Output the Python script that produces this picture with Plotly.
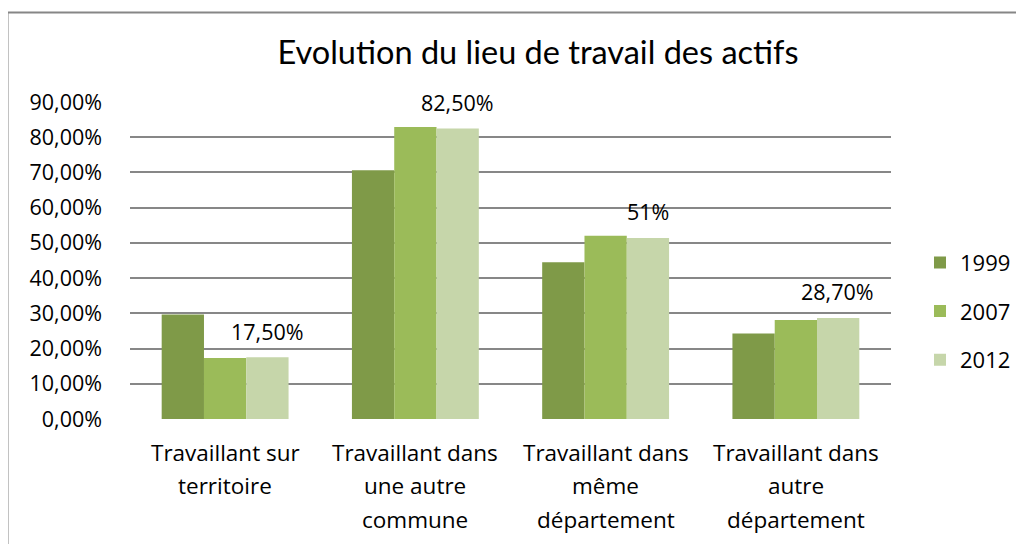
import plotly.graph_objects as go

categories = ["Travaillant sur territoire", "Travaillant dans une autre commune",
              "Travaillant dans même département", "Travaillant dans autre département"]
category_lines = [["Travaillant sur", "territoire"],
                  ["Travaillant dans", "une autre", "commune"],
                  ["Travaillant dans", "même", "département"],
                  ["Travaillant dans", "autre", "département"]]
years = ["1999", "2007", "2012"]
values_1999 = [29.7, 70.6, 44.5, 24.3]
values_2007 = [17.3, 82.9, 52.0, 28.1]
values_2012 = [17.5, 82.5, 51.4, 28.7]
labels_2012 = ["17,50%", "82,50%", "51%", "28,70%"]
y_ticks = [0, 10, 20, 30, 40, 50, 60, 70, 80, 90]
y_ticktext = [f"{v:.2f}%".replace(".", ",") for v in y_ticks]

colors = ["#7F9A48", "#9BBB59", "#C6D6AA"]
FONT = "Open Sans"

# page body has an 8px offset; plot area target: x 130..891, y 102..419 in the window
W, H = 1024, 544
L, T = 122, 94
PW, PH = 761, 317

fig = go.Figure()
for name, vals, col in zip(years, [values_1999, values_2007, values_2012], colors):
    fig.add_trace(go.Bar(x=categories, y=vals, name=name, marker=dict(color=col, line=dict(width=0)),
                         legendgroup=name))

# data labels for 2012 series
for cat, v, t in zip(categories, values_2012, labels_2012):
    fig.add_annotation(x=cat, y=v, text=t, showarrow=False, xref="x", yref="y",
                       xshift=42, yshift=26, yanchor="middle",
                       font=dict(family=FONT, size=21.5, color="#000000"))

# category labels with wide line spacing
for cat, lines in zip(categories, category_lines):
    for i, line in enumerate(lines):
        fig.add_annotation(x=cat, y=0, text=line, showarrow=False, xref="x", yref="y",
                           yshift=-(33 + i * 33.5), yanchor="middle",
                           font=dict(family=FONT, size=22.5, color="#000000"))

# outer chart frame (left and top edges visible)
fx0 = (-0.5 - L) / PW
fy1 = 1 + (T - 4.5) / PH
fig.add_shape(type="line", xref="paper", yref="paper", x0=fx0, x1=fx0,
              y0=-(H + 20 - T - PH) / PH, y1=fy1, line=dict(color="#868686", width=2))
fig.add_shape(type="line", xref="paper", yref="paper", x0=fx0, x1=(W + 20 - L) / PW,
              y0=fy1, y1=fy1, line=dict(color="#868686", width=2))

fig.update_layout(
    width=W, height=H,
    margin=dict(l=L, r=W - L - PW, t=T, b=H - T - PH),
    paper_bgcolor="white", plot_bgcolor="white",
    barmode="group", bargap=0.333, bargroupgap=0,
    title=dict(text="Evolution du lieu de travail des actifs", x=530 / W, xanchor="center",
               y=1 - 45 / H, yanchor="middle",
               font=dict(family="Lato", size=32.5, color="#000000")),
    legend=dict(x=(912 - L) / PW, xanchor="left", y=0.34, yanchor="middle",
                font=dict(family=FONT, size=22, color="#000000"),
                tracegroupgap=17, itemclick=False),
    showlegend=True,
)
fig.update_xaxes(showticklabels=False, showline=False, showgrid=False, ticks="")
fig.update_yaxes(range=[0, 90], tickmode="array", tickvals=y_ticks, ticktext=y_ticktext,
                 showgrid=True, gridcolor="#878787", gridwidth=1.7, zeroline=False,
                 showline=False, ticks="", ticklabelstandoff=27,
                 tickfont=dict(family=FONT, size=21.5, color="#000000"))

fig.write_html("out.html")
